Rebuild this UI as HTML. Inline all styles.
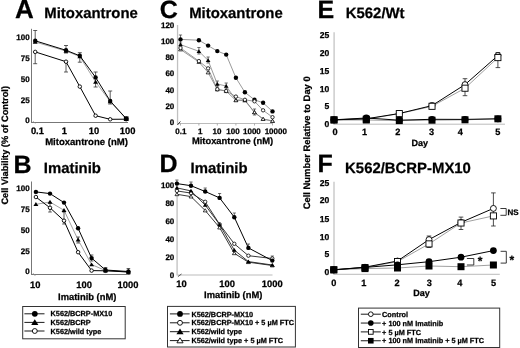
<!DOCTYPE html>
<html><head><meta charset="utf-8"><style>
html,body{margin:0;padding:0;background:#fff;}
svg{display:block;font-family:"Liberation Sans", sans-serif;will-change:transform;text-rendering:geometricPrecision;}
text{stroke:#000;stroke-width:0.25px;}
</style></head><body>
<svg width="520" height="348" viewBox="0 0 520 348">
<g>
<rect width="520" height="348" fill="#fff"/>
<text x="14.9" y="18.1" font-size="26" font-weight="bold" text-anchor="start" fill="#000" >A</text>
<text x="44.3" y="18" font-size="14.9" font-weight="bold" text-anchor="start" fill="#000" >Mitoxantrone</text>
<text x="159.8" y="17.9" font-size="25" font-weight="bold" text-anchor="start" fill="#000" >C</text>
<text x="189.2" y="18.1" font-size="14.9" font-weight="bold" text-anchor="start" fill="#000" >Mitoxantrone</text>
<text x="317.5" y="18.2" font-size="25" font-weight="bold" text-anchor="start" fill="#000" >E</text>
<text x="345.8" y="17.7" font-size="14.9" font-weight="bold" text-anchor="start" fill="#000" >K562/Wt</text>
<text x="13.5" y="172.9" font-size="25" font-weight="bold" text-anchor="start" fill="#000" >B</text>
<text x="43.8" y="172.9" font-size="14.9" font-weight="bold" text-anchor="start" fill="#000" >Imatinib</text>
<text x="159.5" y="171.9" font-size="25" font-weight="bold" text-anchor="start" fill="#000" >D</text>
<text x="190.5" y="172.9" font-size="14.9" font-weight="bold" text-anchor="start" fill="#000" >Imatinib</text>
<text x="317.6" y="172.2" font-size="25" font-weight="bold" text-anchor="start" fill="#000" >F</text>
<text x="345.1" y="173.1" font-size="14.9" font-weight="bold" text-anchor="start" fill="#000" >K562/BCRP-MX10</text>
<text transform="translate(8.1,145.3) rotate(-90)" font-size="9.26" font-weight="bold" text-anchor="middle">Cell Viability (% of Control)</text>
<text transform="translate(310.2,142.8) rotate(-90)" font-size="9.4" font-weight="bold" text-anchor="middle">Cell Number Relative to Day 0</text>
<line x1="31.5" y1="28.8" x2="31.5" y2="123" stroke="#777" stroke-width="1"/>
<line x1="31" y1="122.5" x2="128" y2="122.5" stroke="#777" stroke-width="1"/>
<line x1="33.2" y1="121.3" x2="35.2" y2="123.4" stroke="#888" stroke-width="0.9"/>
<text x="29.6" y="39.8" font-size="8" font-weight="bold" text-anchor="end" fill="#000" >100</text>
<text x="29.6" y="60.8" font-size="8" font-weight="bold" text-anchor="end" fill="#000" >75</text>
<text x="29.6" y="81.8" font-size="8" font-weight="bold" text-anchor="end" fill="#000" >50</text>
<text x="29.6" y="102.8" font-size="8" font-weight="bold" text-anchor="end" fill="#000" >25</text>
<text x="29.6" y="123.1" font-size="8" font-weight="bold" text-anchor="end" fill="#000" >0</text>
<text x="37.4" y="133.98999999999998" font-size="9.4" font-weight="bold" text-anchor="middle" fill="#000" >0.1</text>
<text x="64.3" y="133.98999999999998" font-size="9.4" font-weight="bold" text-anchor="middle" fill="#000" >1</text>
<text x="94" y="133.98999999999998" font-size="9.4" font-weight="bold" text-anchor="middle" fill="#000" >10</text>
<text x="127.6" y="133.98999999999998" font-size="9.4" font-weight="bold" text-anchor="middle" fill="#000" >100</text>
<text x="86.5" y="144.8" font-size="9.55" font-weight="bold" text-anchor="middle" fill="#000" >Mitoxantrone (nM)</text>
<line x1="35.2" y1="30.5" x2="35.2" y2="42" stroke="#333" stroke-width="0.8"/>
<line x1="33.2" y1="30.5" x2="37.2" y2="30.5" stroke="#333" stroke-width="0.8"/>
<line x1="33.2" y1="42" x2="37.2" y2="42" stroke="#333" stroke-width="0.8"/>
<line x1="35.2" y1="52" x2="35.2" y2="63.7" stroke="#333" stroke-width="0.8"/>
<line x1="33.2" y1="52" x2="37.2" y2="52" stroke="#333" stroke-width="0.8"/>
<line x1="33.2" y1="63.7" x2="37.2" y2="63.7" stroke="#333" stroke-width="0.8"/>
<line x1="66" y1="45.5" x2="66" y2="53" stroke="#333" stroke-width="0.8"/>
<line x1="64" y1="45.5" x2="68" y2="45.5" stroke="#333" stroke-width="0.8"/>
<line x1="64" y1="53" x2="68" y2="53" stroke="#333" stroke-width="0.8"/>
<line x1="66" y1="62" x2="66" y2="72" stroke="#333" stroke-width="0.8"/>
<line x1="64" y1="62" x2="68" y2="62" stroke="#333" stroke-width="0.8"/>
<line x1="64" y1="72" x2="68" y2="72" stroke="#333" stroke-width="0.8"/>
<line x1="79.8" y1="52.7" x2="79.8" y2="62.2" stroke="#333" stroke-width="0.8"/>
<line x1="77.8" y1="52.7" x2="81.8" y2="52.7" stroke="#333" stroke-width="0.8"/>
<line x1="77.8" y1="62.2" x2="81.8" y2="62.2" stroke="#333" stroke-width="0.8"/>
<line x1="95.6" y1="72" x2="95.6" y2="87" stroke="#333" stroke-width="0.8"/>
<line x1="93.6" y1="72" x2="97.6" y2="72" stroke="#333" stroke-width="0.8"/>
<line x1="93.6" y1="87" x2="97.6" y2="87" stroke="#333" stroke-width="0.8"/>
<line x1="110.2" y1="91" x2="110.2" y2="104" stroke="#333" stroke-width="0.8"/>
<line x1="108.2" y1="91" x2="112.2" y2="91" stroke="#333" stroke-width="0.8"/>
<line x1="108.2" y1="104" x2="112.2" y2="104" stroke="#333" stroke-width="0.8"/>
<polyline points="35.2,42 66,51 79.8,56.5 95.6,81.9 110.2,101.5 126.2,118.8" fill="none" stroke="#666" stroke-width="0.6" stroke-linejoin="round"/>
<polyline points="35.2,40.8 66,50.3 79.8,55.8 95.6,77.4 110.2,101 126.2,118.6" fill="none" stroke="#000" stroke-width="1" stroke-linejoin="round"/>
<polyline points="35.2,51.9 66,61.7 79.8,86.6 95.6,115.7 110.2,119.3 126.2,119.2" fill="none" stroke="#000" stroke-width="1" stroke-linejoin="round"/>
<circle cx="35.2" cy="51.9" r="1.7500000000000002" fill="#fff" stroke="#000" stroke-width="0.9"/>
<circle cx="66" cy="61.7" r="1.7500000000000002" fill="#fff" stroke="#000" stroke-width="0.9"/>
<circle cx="79.8" cy="86.6" r="1.7500000000000002" fill="#fff" stroke="#000" stroke-width="0.9"/>
<circle cx="95.6" cy="115.7" r="1.7500000000000002" fill="#fff" stroke="#000" stroke-width="0.9"/>
<circle cx="110.2" cy="119.3" r="1.7500000000000002" fill="#fff" stroke="#000" stroke-width="0.9"/>
<circle cx="126.2" cy="119.2" r="1.7500000000000002" fill="#fff" stroke="#000" stroke-width="0.9"/>
<path d="M35.2,39.80 L37.66,43.76 L32.74,43.76Z" fill="#000"/>
<path d="M66,48.80 L68.46,52.76 L63.54,52.76Z" fill="#000"/>
<path d="M79.8,54.30 L82.26,58.26 L77.34,58.26Z" fill="#000"/>
<path d="M95.6,79.70 L98.06,83.66 L93.14,83.66Z" fill="#000"/>
<path d="M110.2,99.30 L112.66,103.26 L107.74,103.26Z" fill="#000"/>
<path d="M126.2,116.60 L128.66,120.56 L123.74,120.56Z" fill="#000"/>
<circle cx="35.2" cy="40.8" r="2.2" fill="#000"/>
<circle cx="66" cy="50.3" r="2.2" fill="#000"/>
<circle cx="79.8" cy="55.8" r="2.2" fill="#000"/>
<circle cx="95.6" cy="77.4" r="2.2" fill="#000"/>
<circle cx="110.2" cy="101" r="2.2" fill="#000"/>
<circle cx="126.2" cy="118.6" r="2.2" fill="#000"/>
<rect x="123.9" y="116.4" width="4.6" height="4.6" fill="#000"/>
<line x1="31.5" y1="181.5" x2="31.5" y2="275" stroke="#777" stroke-width="1"/>
<line x1="31" y1="274.5" x2="130.3" y2="274.5" stroke="#777" stroke-width="1"/>
<line x1="33.2" y1="273.3" x2="35.2" y2="275.8" stroke="#888" stroke-width="0.9"/>
<text x="29.6" y="191.4" font-size="8" font-weight="bold" text-anchor="end" fill="#000" >100</text>
<text x="29.6" y="212.10000000000002" font-size="8" font-weight="bold" text-anchor="end" fill="#000" >75</text>
<text x="29.6" y="232.9" font-size="8" font-weight="bold" text-anchor="end" fill="#000" >50</text>
<text x="29.6" y="253.8" font-size="8" font-weight="bold" text-anchor="end" fill="#000" >25</text>
<text x="29.6" y="274.2" font-size="8" font-weight="bold" text-anchor="end" fill="#000" >0</text>
<text x="35.3" y="287.59000000000003" font-size="9.4" font-weight="bold" text-anchor="middle" fill="#000" >10</text>
<text x="84.1" y="287.59000000000003" font-size="9.4" font-weight="bold" text-anchor="middle" fill="#000" >100</text>
<text x="128" y="287.59000000000003" font-size="9.4" font-weight="bold" text-anchor="middle" fill="#000" >1000</text>
<text x="87.2" y="300.2" font-size="9.4" font-weight="bold" text-anchor="middle" fill="#000" >Imatinib (nM)</text>
<line x1="50" y1="203" x2="50" y2="212" stroke="#333" stroke-width="0.8"/>
<line x1="48.2" y1="203" x2="51.8" y2="203" stroke="#333" stroke-width="0.8"/>
<line x1="48.2" y1="212" x2="51.8" y2="212" stroke="#333" stroke-width="0.8"/>
<line x1="64" y1="212" x2="64" y2="224" stroke="#333" stroke-width="0.8"/>
<line x1="62.2" y1="212" x2="65.8" y2="212" stroke="#333" stroke-width="0.8"/>
<line x1="62.2" y1="224" x2="65.8" y2="224" stroke="#333" stroke-width="0.8"/>
<line x1="78.1" y1="237" x2="78.1" y2="243" stroke="#333" stroke-width="0.8"/>
<line x1="76.3" y1="237" x2="79.89999999999999" y2="237" stroke="#333" stroke-width="0.8"/>
<line x1="76.3" y1="243" x2="79.89999999999999" y2="243" stroke="#333" stroke-width="0.8"/>
<line x1="91.6" y1="255" x2="91.6" y2="261" stroke="#333" stroke-width="0.8"/>
<line x1="89.8" y1="255" x2="93.39999999999999" y2="255" stroke="#333" stroke-width="0.8"/>
<line x1="89.8" y1="261" x2="93.39999999999999" y2="261" stroke="#333" stroke-width="0.8"/>
<line x1="105.5" y1="267.5" x2="105.5" y2="272" stroke="#333" stroke-width="0.8"/>
<line x1="103.7" y1="267.5" x2="107.3" y2="267.5" stroke="#333" stroke-width="0.8"/>
<line x1="103.7" y1="272" x2="107.3" y2="272" stroke="#333" stroke-width="0.8"/>
<line x1="128.4" y1="268.5" x2="128.4" y2="273" stroke="#333" stroke-width="0.8"/>
<line x1="126.60000000000001" y1="268.5" x2="130.20000000000002" y2="268.5" stroke="#333" stroke-width="0.8"/>
<line x1="126.60000000000001" y1="273" x2="130.20000000000002" y2="273" stroke="#333" stroke-width="0.8"/>
<polyline points="35.9,204.3 50,202 64,210.3 78.1,239.8 91.6,264.6 105.5,270.5 128.4,272" fill="none" stroke="#777" stroke-width="0.7" stroke-linejoin="round"/>
<polyline points="35.9,191.9 50,193.6 64,202.6 78.1,228.3 91.6,258.1 105.5,270 128.4,271.5" fill="none" stroke="#000" stroke-width="1" stroke-linejoin="round"/>
<polyline points="35.9,197 50,207.8 64,220.7 78.1,252.2 91.6,270.6 105.5,270.8 128.4,272" fill="none" stroke="#000" stroke-width="1" stroke-linejoin="round"/>
<circle cx="35.9" cy="197" r="1.7500000000000002" fill="#fff" stroke="#000" stroke-width="0.9"/>
<circle cx="50" cy="207.8" r="1.7500000000000002" fill="#fff" stroke="#000" stroke-width="0.9"/>
<circle cx="64" cy="220.7" r="1.7500000000000002" fill="#fff" stroke="#000" stroke-width="0.9"/>
<circle cx="78.1" cy="252.2" r="1.7500000000000002" fill="#fff" stroke="#000" stroke-width="0.9"/>
<circle cx="91.6" cy="270.6" r="1.7500000000000002" fill="#fff" stroke="#000" stroke-width="0.9"/>
<circle cx="105.5" cy="270.8" r="1.7500000000000002" fill="#fff" stroke="#000" stroke-width="0.9"/>
<circle cx="128.4" cy="272" r="1.7500000000000002" fill="#fff" stroke="#000" stroke-width="0.9"/>
<path d="M35.9,202.10 L38.36,206.06 L33.44,206.06Z" fill="#000"/>
<path d="M50,199.80 L52.46,203.76 L47.54,203.76Z" fill="#000"/>
<path d="M64,208.10 L66.46,212.06 L61.54,212.06Z" fill="#000"/>
<path d="M78.1,237.60 L80.56,241.56 L75.64,241.56Z" fill="#000"/>
<path d="M91.6,262.40 L94.06,266.36 L89.14,266.36Z" fill="#000"/>
<path d="M105.5,268.30 L107.96,272.26 L103.04,272.26Z" fill="#000"/>
<path d="M128.4,269.80 L130.86,273.76 L125.94,273.76Z" fill="#000"/>
<circle cx="35.9" cy="191.9" r="2.2" fill="#000"/>
<circle cx="50" cy="193.6" r="2.2" fill="#000"/>
<circle cx="64" cy="202.6" r="2.2" fill="#000"/>
<circle cx="78.1" cy="228.3" r="2.2" fill="#000"/>
<circle cx="91.6" cy="258.1" r="2.2" fill="#000"/>
<circle cx="105.5" cy="270" r="2.2" fill="#000"/>
<circle cx="128.4" cy="271.5" r="2.2" fill="#000"/>
<rect x="22.7" y="306.5" width="102.5" height="32.3" fill="none" stroke="#333" stroke-width="1"/>
<line x1="24.4" y1="313.8" x2="44.5" y2="313.8" stroke="#000" stroke-width="0.9"/>
<circle cx="34.8" cy="313.8" r="2.9" fill="#000"/>
<text x="50.6" y="316.40000000000003" font-size="7.3" font-weight="bold" text-anchor="start" fill="#000" >K562/BCRP-MX10</text>
<line x1="24.4" y1="322.40000000000003" x2="44.5" y2="322.40000000000003" stroke="#000" stroke-width="0.9"/>
<path d="M34.8,319.20 L38.38,324.96 L31.22,324.96Z" fill="#000"/>
<text x="50.6" y="325.00000000000006" font-size="7.3" font-weight="bold" text-anchor="start" fill="#000" >K562/BCRP</text>
<line x1="24.4" y1="331.0" x2="44.5" y2="331.0" stroke="#000" stroke-width="0.9"/>
<circle cx="34.8" cy="331.0" r="2.4499999999999997" fill="#fff" stroke="#000" stroke-width="0.9"/>
<text x="50.6" y="333.6" font-size="7.3" font-weight="bold" text-anchor="start" fill="#000" >K562/wild type</text>
<line x1="177.55" y1="25" x2="177.55" y2="124" stroke="#c0c0c0" stroke-width="1.3"/>
<line x1="177.5" y1="123.5" x2="273" y2="123.5" stroke="#bbb" stroke-width="1"/>
<line x1="177.4" y1="125" x2="180.4" y2="121.5" stroke="#333" stroke-width="1"/>
<text x="174.3" y="27.7" font-size="8" font-weight="bold" text-anchor="end" fill="#000" >120</text>
<text x="174.3" y="43.9" font-size="8" font-weight="bold" text-anchor="end" fill="#000" >100</text>
<text x="174.3" y="60.099999999999994" font-size="8" font-weight="bold" text-anchor="end" fill="#000" >80</text>
<text x="174.3" y="76.3" font-size="8" font-weight="bold" text-anchor="end" fill="#000" >60</text>
<text x="174.3" y="92.6" font-size="8" font-weight="bold" text-anchor="end" fill="#000" >40</text>
<text x="174.3" y="108.8" font-size="8" font-weight="bold" text-anchor="end" fill="#000" >20</text>
<text x="174.3" y="125.2" font-size="8" font-weight="bold" text-anchor="end" fill="#000" >0</text>
<text x="180.8" y="133.70000000000002" font-size="8" font-weight="bold" text-anchor="middle" fill="#000" >0.1</text>
<text x="200.2" y="133.70000000000002" font-size="8" font-weight="bold" text-anchor="middle" fill="#000" >1</text>
<text x="216.9" y="133.70000000000002" font-size="8" font-weight="bold" text-anchor="middle" fill="#000" >10</text>
<text x="233" y="133.70000000000002" font-size="8" font-weight="bold" text-anchor="middle" fill="#000" >100</text>
<text x="251.9" y="133.70000000000002" font-size="8" font-weight="bold" text-anchor="middle" fill="#000" >1000</text>
<text x="275.8" y="133.70000000000002" font-size="8" font-weight="bold" text-anchor="middle" fill="#000" >10000</text>
<text x="232.5" y="144.3" font-size="9.4" font-weight="bold" text-anchor="middle" fill="#000" >Mitoxantrone (nM)</text>
<line x1="180.5" y1="35" x2="180.5" y2="43" stroke="#333" stroke-width="0.7"/>
<line x1="178.9" y1="35" x2="182.1" y2="35" stroke="#333" stroke-width="0.7"/>
<line x1="178.9" y1="43" x2="182.1" y2="43" stroke="#333" stroke-width="0.7"/>
<line x1="198.9" y1="47.5" x2="198.9" y2="54" stroke="#333" stroke-width="0.7"/>
<line x1="197.3" y1="47.5" x2="200.5" y2="47.5" stroke="#333" stroke-width="0.7"/>
<line x1="197.3" y1="54" x2="200.5" y2="54" stroke="#333" stroke-width="0.7"/>
<line x1="208.1" y1="57" x2="208.1" y2="63" stroke="#333" stroke-width="0.7"/>
<line x1="206.5" y1="57" x2="209.7" y2="57" stroke="#333" stroke-width="0.7"/>
<line x1="206.5" y1="63" x2="209.7" y2="63" stroke="#333" stroke-width="0.7"/>
<line x1="217.3" y1="81" x2="217.3" y2="87" stroke="#333" stroke-width="0.7"/>
<line x1="215.70000000000002" y1="81" x2="218.9" y2="81" stroke="#333" stroke-width="0.7"/>
<line x1="215.70000000000002" y1="87" x2="218.9" y2="87" stroke="#333" stroke-width="0.7"/>
<line x1="226.2" y1="83" x2="226.2" y2="89" stroke="#333" stroke-width="0.7"/>
<line x1="224.6" y1="83" x2="227.79999999999998" y2="83" stroke="#333" stroke-width="0.7"/>
<line x1="224.6" y1="89" x2="227.79999999999998" y2="89" stroke="#333" stroke-width="0.7"/>
<line x1="254.5" y1="109" x2="254.5" y2="115" stroke="#333" stroke-width="0.7"/>
<line x1="252.9" y1="109" x2="256.1" y2="109" stroke="#333" stroke-width="0.7"/>
<line x1="252.9" y1="115" x2="256.1" y2="115" stroke="#333" stroke-width="0.7"/>
<polyline points="180.5,39.4 198.9,40.2 208.1,45.6 217.3,51.1 226.2,54.6 235.9,77.8 244.9,92.3 254.5,99.8 263.1,102.8 272.5,111.4" fill="none" stroke="#808080" stroke-width="0.8" stroke-linejoin="round"/>
<polyline points="180.5,44.6 198.9,51.3 208.1,60.4 217.3,84 226.2,86 235.9,100 244.9,100.5 254.5,112.4 263.1,119 272.5,121" fill="none" stroke="#808080" stroke-width="0.8" stroke-linejoin="round"/>
<polyline points="180.5,48 198.9,61.1 208.1,68.4 217.3,89.2 226.2,91 235.9,96.6 244.9,99.8 254.5,101.3 263.1,110.3 272.5,117.2" fill="none" stroke="#808080" stroke-width="0.8" stroke-linejoin="round"/>
<polyline points="180.5,49.5 198.9,62 208.1,72.5 217.3,89.5 226.2,91.2 235.9,100.4 244.9,100 254.5,112.4 263.1,119 272.5,121" fill="none" stroke="#808080" stroke-width="0.8" stroke-linejoin="round"/>
<path d="M180.5,42.50 L182.85,46.28 L178.15,46.28Z" fill="#000"/>
<path d="M198.9,49.20 L201.25,52.98 L196.55,52.98Z" fill="#000"/>
<path d="M208.1,58.30 L210.45,62.08 L205.75,62.08Z" fill="#000"/>
<path d="M217.3,81.90 L219.65,85.68 L214.95,85.68Z" fill="#000"/>
<path d="M226.2,83.90 L228.55,87.68 L223.85,87.68Z" fill="#000"/>
<path d="M235.9,97.90 L238.25,101.68 L233.55,101.68Z" fill="#000"/>
<path d="M244.9,98.40 L247.25,102.18 L242.55,102.18Z" fill="#000"/>
<path d="M254.5,110.30 L256.85,114.08 L252.15,114.08Z" fill="#000"/>
<path d="M263.1,116.90 L265.45,120.68 L260.75,120.68Z" fill="#000"/>
<path d="M272.5,118.90 L274.85,122.68 L270.15,122.68Z" fill="#000"/>
<circle cx="180.5" cy="39.4" r="2.2" fill="#000"/>
<circle cx="198.9" cy="40.2" r="2.2" fill="#000"/>
<circle cx="208.1" cy="45.6" r="2.2" fill="#000"/>
<circle cx="217.3" cy="51.1" r="2.2" fill="#000"/>
<circle cx="226.2" cy="54.6" r="2.2" fill="#000"/>
<circle cx="235.9" cy="77.8" r="2.2" fill="#000"/>
<circle cx="244.9" cy="92.3" r="2.2" fill="#000"/>
<circle cx="254.5" cy="99.8" r="2.2" fill="#000"/>
<circle cx="263.1" cy="102.8" r="2.2" fill="#000"/>
<circle cx="272.5" cy="111.4" r="2.2" fill="#000"/>
<path d="M180.5,47.77 L182.43,50.88 L178.57,50.88Z" fill="#fff" stroke="#000" stroke-width="0.75" stroke-linejoin="miter"/>
<path d="M198.9,60.27 L200.83,63.38 L196.97,63.38Z" fill="#fff" stroke="#000" stroke-width="0.75" stroke-linejoin="miter"/>
<path d="M208.1,70.78 L210.03,73.88 L206.17,73.88Z" fill="#fff" stroke="#000" stroke-width="0.75" stroke-linejoin="miter"/>
<path d="M217.3,87.78 L219.23,90.88 L215.37,90.88Z" fill="#fff" stroke="#000" stroke-width="0.75" stroke-linejoin="miter"/>
<path d="M226.2,89.48 L228.13,92.58 L224.27,92.58Z" fill="#fff" stroke="#000" stroke-width="0.75" stroke-linejoin="miter"/>
<path d="M235.9,98.68 L237.83,101.78 L233.97,101.78Z" fill="#fff" stroke="#000" stroke-width="0.75" stroke-linejoin="miter"/>
<path d="M244.9,98.28 L246.83,101.38 L242.97,101.38Z" fill="#fff" stroke="#000" stroke-width="0.75" stroke-linejoin="miter"/>
<path d="M254.5,110.68 L256.43,113.78 L252.57,113.78Z" fill="#fff" stroke="#000" stroke-width="0.75" stroke-linejoin="miter"/>
<path d="M263.1,117.28 L265.03,120.38 L261.17,120.38Z" fill="#fff" stroke="#000" stroke-width="0.75" stroke-linejoin="miter"/>
<path d="M272.5,119.28 L274.43,122.38 L270.57,122.38Z" fill="#fff" stroke="#000" stroke-width="0.75" stroke-linejoin="miter"/>
<circle cx="180.5" cy="48" r="1.7000000000000002" fill="#fff" stroke="#000" stroke-width="0.8"/>
<circle cx="198.9" cy="61.1" r="1.7000000000000002" fill="#fff" stroke="#000" stroke-width="0.8"/>
<circle cx="208.1" cy="68.4" r="1.7000000000000002" fill="#fff" stroke="#000" stroke-width="0.8"/>
<circle cx="217.3" cy="89.2" r="1.7000000000000002" fill="#fff" stroke="#000" stroke-width="0.8"/>
<circle cx="226.2" cy="91" r="1.7000000000000002" fill="#fff" stroke="#000" stroke-width="0.8"/>
<circle cx="235.9" cy="96.6" r="1.7000000000000002" fill="#fff" stroke="#000" stroke-width="0.8"/>
<circle cx="244.9" cy="99.8" r="1.7000000000000002" fill="#fff" stroke="#000" stroke-width="0.8"/>
<circle cx="254.5" cy="101.3" r="1.7000000000000002" fill="#fff" stroke="#000" stroke-width="0.8"/>
<circle cx="263.1" cy="110.3" r="1.7000000000000002" fill="#fff" stroke="#000" stroke-width="0.8"/>
<circle cx="272.5" cy="117.2" r="1.7000000000000002" fill="#fff" stroke="#000" stroke-width="0.8"/>
<line x1="180.5" y1="123.5" x2="180.5" y2="125.5" stroke="#999" stroke-width="0.8"/>
<line x1="198.9" y1="123.5" x2="198.9" y2="125.5" stroke="#999" stroke-width="0.8"/>
<line x1="217.3" y1="123.5" x2="217.3" y2="125.5" stroke="#999" stroke-width="0.8"/>
<line x1="235.9" y1="123.5" x2="235.9" y2="125.5" stroke="#999" stroke-width="0.8"/>
<line x1="254.5" y1="123.5" x2="254.5" y2="125.5" stroke="#999" stroke-width="0.8"/>
<line x1="272.5" y1="123.5" x2="272.5" y2="125.5" stroke="#999" stroke-width="0.8"/>
<line x1="177.1" y1="181" x2="177.1" y2="275.5" stroke="#c4c4c4" stroke-width="1.4"/>
<line x1="177.5" y1="275" x2="272.5" y2="275" stroke="#bbb" stroke-width="1"/>
<line x1="177.9" y1="276.6" x2="181.5" y2="274" stroke="#555" stroke-width="1"/>
<text x="174.3" y="188.0" font-size="8" font-weight="bold" text-anchor="end" fill="#000" >100</text>
<text x="174.3" y="206.0" font-size="8" font-weight="bold" text-anchor="end" fill="#000" >80</text>
<text x="174.3" y="224.0" font-size="8" font-weight="bold" text-anchor="end" fill="#000" >60</text>
<text x="174.3" y="242.0" font-size="8" font-weight="bold" text-anchor="end" fill="#000" >40</text>
<text x="174.3" y="259.90000000000003" font-size="8" font-weight="bold" text-anchor="end" fill="#000" >20</text>
<text x="174.3" y="277.7" font-size="8" font-weight="bold" text-anchor="end" fill="#000" >0</text>
<text x="181.5" y="286.59000000000003" font-size="9.4" font-weight="bold" text-anchor="middle" fill="#000" >10</text>
<text x="227.2" y="286.59000000000003" font-size="9.4" font-weight="bold" text-anchor="middle" fill="#000" >100</text>
<text x="272.2" y="286.59000000000003" font-size="9.4" font-weight="bold" text-anchor="middle" fill="#000" >1000</text>
<text x="233.2" y="297.6" font-size="9.4" font-weight="bold" text-anchor="middle" fill="#000" >Imatinib (nM)</text>
<line x1="176.9" y1="180" x2="176.9" y2="184" stroke="#333" stroke-width="0.7"/>
<line x1="175.3" y1="180" x2="178.5" y2="180" stroke="#333" stroke-width="0.7"/>
<line x1="175.3" y1="184" x2="178.5" y2="184" stroke="#333" stroke-width="0.7"/>
<line x1="191" y1="182" x2="191" y2="186" stroke="#333" stroke-width="0.7"/>
<line x1="189.4" y1="182" x2="192.6" y2="182" stroke="#333" stroke-width="0.7"/>
<line x1="189.4" y1="186" x2="192.6" y2="186" stroke="#333" stroke-width="0.7"/>
<line x1="205.2" y1="188" x2="205.2" y2="192" stroke="#333" stroke-width="0.7"/>
<line x1="203.6" y1="188" x2="206.79999999999998" y2="188" stroke="#333" stroke-width="0.7"/>
<line x1="203.6" y1="192" x2="206.79999999999998" y2="192" stroke="#333" stroke-width="0.7"/>
<line x1="219.6" y1="193.5" x2="219.6" y2="198" stroke="#333" stroke-width="0.7"/>
<line x1="218.0" y1="193.5" x2="221.2" y2="193.5" stroke="#333" stroke-width="0.7"/>
<line x1="218.0" y1="198" x2="221.2" y2="198" stroke="#333" stroke-width="0.7"/>
<line x1="234.3" y1="213" x2="234.3" y2="217" stroke="#333" stroke-width="0.7"/>
<line x1="232.70000000000002" y1="213" x2="235.9" y2="213" stroke="#333" stroke-width="0.7"/>
<line x1="232.70000000000002" y1="217" x2="235.9" y2="217" stroke="#333" stroke-width="0.7"/>
<line x1="248.4" y1="244" x2="248.4" y2="248" stroke="#333" stroke-width="0.7"/>
<line x1="246.8" y1="244" x2="250.0" y2="244" stroke="#333" stroke-width="0.7"/>
<line x1="246.8" y1="248" x2="250.0" y2="248" stroke="#333" stroke-width="0.7"/>
<line x1="272.3" y1="256" x2="272.3" y2="260" stroke="#333" stroke-width="0.7"/>
<line x1="270.7" y1="256" x2="273.90000000000003" y2="256" stroke="#333" stroke-width="0.7"/>
<line x1="270.7" y1="260" x2="273.90000000000003" y2="260" stroke="#333" stroke-width="0.7"/>
<polyline points="176.9,194.3 191,196.6 205.2,210.5 219.6,227.6 234.3,253.3 248.4,262.2 272.3,265.5" fill="none" stroke="#222" stroke-width="0.9" stroke-linejoin="round"/>
<polyline points="176.9,187.9 191,190.9 205.2,205.1 219.6,224.5 234.3,250.1 248.4,261.6 272.3,265" fill="none" stroke="#222" stroke-width="0.9" stroke-linejoin="round"/>
<polyline points="176.9,190.9 191,193.1 205.2,201.8 219.6,224.3 234.3,243.8 248.4,255.7 272.3,258.5" fill="none" stroke="#222" stroke-width="0.9" stroke-linejoin="round"/>
<polyline points="176.9,183.6 191,185.7 205.2,191.5 219.6,197.9 234.3,217.2 248.4,247.9 272.3,260.6" fill="none" stroke="#000" stroke-width="1" stroke-linejoin="round"/>
<path d="M176.9,192.58 L178.83,195.68 L174.97,195.68Z" fill="#fff" stroke="#000" stroke-width="0.75" stroke-linejoin="miter"/>
<path d="M191,194.88 L192.93,197.98 L189.07,197.98Z" fill="#fff" stroke="#000" stroke-width="0.75" stroke-linejoin="miter"/>
<path d="M205.2,208.78 L207.13,211.88 L203.27,211.88Z" fill="#fff" stroke="#000" stroke-width="0.75" stroke-linejoin="miter"/>
<path d="M219.6,225.88 L221.53,228.98 L217.67,228.98Z" fill="#fff" stroke="#000" stroke-width="0.75" stroke-linejoin="miter"/>
<path d="M234.3,251.58 L236.23,254.68 L232.37,254.68Z" fill="#fff" stroke="#000" stroke-width="0.75" stroke-linejoin="miter"/>
<path d="M248.4,260.47 L250.33,263.58 L246.47,263.58Z" fill="#fff" stroke="#000" stroke-width="0.75" stroke-linejoin="miter"/>
<path d="M272.3,263.77 L274.23,266.88 L270.37,266.88Z" fill="#fff" stroke="#000" stroke-width="0.75" stroke-linejoin="miter"/>
<circle cx="176.9" cy="190.9" r="1.7000000000000002" fill="#fff" stroke="#000" stroke-width="0.8"/>
<circle cx="191" cy="193.1" r="1.7000000000000002" fill="#fff" stroke="#000" stroke-width="0.8"/>
<circle cx="205.2" cy="201.8" r="1.7000000000000002" fill="#fff" stroke="#000" stroke-width="0.8"/>
<circle cx="219.6" cy="224.3" r="1.7000000000000002" fill="#fff" stroke="#000" stroke-width="0.8"/>
<circle cx="234.3" cy="243.8" r="1.7000000000000002" fill="#fff" stroke="#000" stroke-width="0.8"/>
<circle cx="248.4" cy="255.7" r="1.7000000000000002" fill="#fff" stroke="#000" stroke-width="0.8"/>
<circle cx="272.3" cy="258.5" r="1.7000000000000002" fill="#fff" stroke="#000" stroke-width="0.8"/>
<path d="M176.9,185.80 L179.25,189.58 L174.55,189.58Z" fill="#000"/>
<path d="M191,188.80 L193.35,192.58 L188.65,192.58Z" fill="#000"/>
<path d="M205.2,203.00 L207.55,206.78 L202.85,206.78Z" fill="#000"/>
<path d="M219.6,222.40 L221.95,226.18 L217.25,226.18Z" fill="#000"/>
<path d="M234.3,248.00 L236.65,251.78 L231.95,251.78Z" fill="#000"/>
<path d="M248.4,259.50 L250.75,263.28 L246.05,263.28Z" fill="#000"/>
<path d="M272.3,262.90 L274.65,266.68 L269.95,266.68Z" fill="#000"/>
<circle cx="176.9" cy="183.6" r="2.2" fill="#000"/>
<circle cx="191" cy="185.7" r="2.2" fill="#000"/>
<circle cx="205.2" cy="191.5" r="2.2" fill="#000"/>
<circle cx="219.6" cy="197.9" r="2.2" fill="#000"/>
<circle cx="234.3" cy="217.2" r="2.2" fill="#000"/>
<circle cx="248.4" cy="247.9" r="2.2" fill="#000"/>
<circle cx="272.3" cy="260.6" r="2.2" fill="#000"/>
<rect x="167.5" y="306.4" width="127.9" height="40.6" fill="none" stroke="#333" stroke-width="1"/>
<line x1="169.9" y1="313.9" x2="189.6" y2="313.9" stroke="#000" stroke-width="0.9"/>
<circle cx="180" cy="313.9" r="2.9" fill="#000"/>
<text x="191.4" y="316.5" font-size="7.3" font-weight="bold" text-anchor="start" fill="#000" >K562/BCRP-MX10</text>
<line x1="169.9" y1="322.79999999999995" x2="189.6" y2="322.79999999999995" stroke="#000" stroke-width="0.9"/>
<circle cx="180" cy="322.79999999999995" r="2.4499999999999997" fill="#fff" stroke="#000" stroke-width="0.9"/>
<text x="191.4" y="325.4" font-size="7.3" font-weight="bold" text-anchor="start" fill="#000" >K562/BCRP-MX10 + 5 µM FTC</text>
<line x1="169.9" y1="331.7" x2="189.6" y2="331.7" stroke="#000" stroke-width="0.9"/>
<path d="M180,328.50 L183.58,334.26 L176.42,334.26Z" fill="#000"/>
<text x="191.4" y="334.3" font-size="7.3" font-weight="bold" text-anchor="start" fill="#000" >K562/wild type</text>
<line x1="169.9" y1="340.59999999999997" x2="189.6" y2="340.59999999999997" stroke="#000" stroke-width="0.9"/>
<path d="M180,337.85 L183.08,342.80 L176.92,342.80Z" fill="#fff" stroke="#000" stroke-width="0.9" stroke-linejoin="miter"/>
<text x="191.4" y="343.2" font-size="7.3" font-weight="bold" text-anchor="start" fill="#000" >K562/wild type + 5 µM FTC</text>
<line x1="334.1" y1="32.3" x2="334.1" y2="124.5" stroke="#c8c8c8" stroke-width="1.4"/>
<line x1="333.5" y1="124.2" x2="505" y2="124.2" stroke="#bbb" stroke-width="1"/>
<text x="329.4" y="37.71" font-size="8.6" font-weight="bold" text-anchor="end" fill="#000" >25</text>
<text x="329.4" y="55.71" font-size="8.6" font-weight="bold" text-anchor="end" fill="#000" >20</text>
<text x="329.4" y="73.61" font-size="8.6" font-weight="bold" text-anchor="end" fill="#000" >15</text>
<text x="329.4" y="91.51" font-size="8.6" font-weight="bold" text-anchor="end" fill="#000" >10</text>
<text x="329.4" y="109.41000000000001" font-size="8.6" font-weight="bold" text-anchor="end" fill="#000" >5</text>
<text x="329.4" y="127.11" font-size="8.6" font-weight="bold" text-anchor="end" fill="#000" >0</text>
<text x="335" y="135.32" font-size="9.2" font-weight="bold" text-anchor="middle" fill="#000" >0</text>
<text x="364.6" y="135.32" font-size="9.2" font-weight="bold" text-anchor="middle" fill="#000" >1</text>
<text x="397.9" y="135.32" font-size="9.2" font-weight="bold" text-anchor="middle" fill="#000" >2</text>
<text x="431.5" y="135.32" font-size="9.2" font-weight="bold" text-anchor="middle" fill="#000" >3</text>
<text x="460.4" y="135.32" font-size="9.2" font-weight="bold" text-anchor="middle" fill="#000" >4</text>
<text x="497.9" y="135.32" font-size="9.2" font-weight="bold" text-anchor="middle" fill="#000" >5</text>
<text x="419.8" y="146.3" font-size="9" font-weight="bold" text-anchor="middle" fill="#000" >Day</text>
<line x1="465" y1="78.7" x2="465" y2="95.7" stroke="#222" stroke-width="0.8"/>
<line x1="462.7" y1="78.7" x2="467.3" y2="78.7" stroke="#222" stroke-width="0.8"/>
<line x1="462.7" y1="95.7" x2="467.3" y2="95.7" stroke="#222" stroke-width="0.8"/>
<line x1="497.9" y1="52.5" x2="497.9" y2="67.6" stroke="#222" stroke-width="0.8"/>
<line x1="495.59999999999997" y1="52.5" x2="500.2" y2="52.5" stroke="#222" stroke-width="0.8"/>
<line x1="495.59999999999997" y1="67.6" x2="500.2" y2="67.6" stroke="#222" stroke-width="0.8"/>
<line x1="432" y1="103" x2="432" y2="109" stroke="#222" stroke-width="0.8"/>
<line x1="429.7" y1="103" x2="434.3" y2="103" stroke="#222" stroke-width="0.8"/>
<line x1="429.7" y1="109" x2="434.3" y2="109" stroke="#222" stroke-width="0.8"/>
<polyline points="334,119.8 366.3,119.2 399.3,113.6 432,106.3 465,88.2 497.9,57.6" fill="none" stroke="#888" stroke-width="0.8" stroke-linejoin="round"/>
<polyline points="334,120 366.3,120 399.3,120.6 432,120.2 465,119.8 497.9,118.8" fill="none" stroke="#888" stroke-width="0.8" stroke-linejoin="round"/>
<polyline points="334,119.8 366.3,118.8 399.3,113.5 432,105.6 465,84.6 497.9,55.6" fill="none" stroke="#000" stroke-width="1" stroke-linejoin="round"/>
<polyline points="334,119.8 366.3,118 399.3,120.2 432,119.3 465,119.4 497.9,118.8" fill="none" stroke="#000" stroke-width="1" stroke-linejoin="round"/>
<circle cx="334" cy="119.8" r="2.9499999999999997" fill="#fff" stroke="#000" stroke-width="0.9"/>
<circle cx="366.3" cy="118.8" r="2.9499999999999997" fill="#fff" stroke="#000" stroke-width="0.9"/>
<circle cx="399.3" cy="113.5" r="2.9499999999999997" fill="#fff" stroke="#000" stroke-width="0.9"/>
<circle cx="432" cy="105.6" r="2.9499999999999997" fill="#fff" stroke="#000" stroke-width="0.9"/>
<circle cx="465" cy="84.6" r="2.9499999999999997" fill="#fff" stroke="#000" stroke-width="0.9"/>
<circle cx="497.9" cy="55.6" r="2.9499999999999997" fill="#fff" stroke="#000" stroke-width="0.9"/>
<rect x="330.95" y="116.75" width="6.1" height="6.1" fill="#fff" stroke="#000" stroke-width="0.9"/>
<rect x="363.25" y="116.15" width="6.1" height="6.1" fill="#fff" stroke="#000" stroke-width="0.9"/>
<rect x="396.25" y="110.55" width="6.1" height="6.1" fill="#fff" stroke="#000" stroke-width="0.9"/>
<rect x="428.95" y="103.25" width="6.1" height="6.1" fill="#fff" stroke="#000" stroke-width="0.9"/>
<rect x="461.95" y="85.15" width="6.1" height="6.1" fill="#fff" stroke="#000" stroke-width="0.9"/>
<rect x="494.84999999999997" y="54.550000000000004" width="6.1" height="6.1" fill="#fff" stroke="#000" stroke-width="0.9"/>
<circle cx="334" cy="119.8" r="3.4" fill="#000"/>
<circle cx="366.3" cy="118" r="3.4" fill="#000"/>
<circle cx="399.3" cy="120.2" r="3.4" fill="#000"/>
<circle cx="432" cy="119.3" r="3.4" fill="#000"/>
<circle cx="465" cy="119.4" r="3.4" fill="#000"/>
<circle cx="497.9" cy="118.8" r="3.4" fill="#000"/>
<rect x="330.5" y="116.5" width="7.0" height="7.0" fill="#000"/>
<rect x="362.8" y="116.5" width="7.0" height="7.0" fill="#000"/>
<rect x="395.8" y="117.1" width="7.0" height="7.0" fill="#000"/>
<rect x="428.5" y="116.7" width="7.0" height="7.0" fill="#000"/>
<rect x="461.5" y="116.3" width="7.0" height="7.0" fill="#000"/>
<rect x="494.4" y="115.3" width="7.0" height="7.0" fill="#000"/>
<line x1="334.0" y1="181.7" x2="334.0" y2="274.5" stroke="#c8c8c8" stroke-width="1.4"/>
<line x1="333.5" y1="274.3" x2="499.8" y2="274.3" stroke="#bbb" stroke-width="1"/>
<text x="329.4" y="185.51" font-size="8.6" font-weight="bold" text-anchor="end" fill="#000" >25</text>
<text x="329.4" y="203.41" font-size="8.6" font-weight="bold" text-anchor="end" fill="#000" >20</text>
<text x="329.4" y="221.51" font-size="8.6" font-weight="bold" text-anchor="end" fill="#000" >15</text>
<text x="329.4" y="239.60999999999999" font-size="8.6" font-weight="bold" text-anchor="end" fill="#000" >10</text>
<text x="329.4" y="257.31" font-size="8.6" font-weight="bold" text-anchor="end" fill="#000" >5</text>
<text x="329.4" y="274.81" font-size="8.6" font-weight="bold" text-anchor="end" fill="#000" >0</text>
<text x="333.8" y="285.52000000000004" font-size="9.2" font-weight="bold" text-anchor="middle" fill="#000" >0</text>
<text x="363.8" y="285.52000000000004" font-size="9.2" font-weight="bold" text-anchor="middle" fill="#000" >1</text>
<text x="397" y="285.52000000000004" font-size="9.2" font-weight="bold" text-anchor="middle" fill="#000" >2</text>
<text x="429.4" y="285.52000000000004" font-size="9.2" font-weight="bold" text-anchor="middle" fill="#000" >3</text>
<text x="459.9" y="285.52000000000004" font-size="9.2" font-weight="bold" text-anchor="middle" fill="#000" >4</text>
<text x="493.5" y="285.52000000000004" font-size="9.2" font-weight="bold" text-anchor="middle" fill="#000" >5</text>
<text x="413.3" y="296" font-size="9" font-weight="bold" text-anchor="start" fill="#000" >Day</text>
<line x1="429" y1="236" x2="429" y2="247.5" stroke="#222" stroke-width="0.8"/>
<line x1="426.7" y1="236" x2="431.3" y2="236" stroke="#222" stroke-width="0.8"/>
<line x1="426.7" y1="247.5" x2="431.3" y2="247.5" stroke="#222" stroke-width="0.8"/>
<line x1="461" y1="217.1" x2="461" y2="229.5" stroke="#222" stroke-width="0.8"/>
<line x1="458.7" y1="217.1" x2="463.3" y2="217.1" stroke="#222" stroke-width="0.8"/>
<line x1="458.7" y1="229.5" x2="463.3" y2="229.5" stroke="#222" stroke-width="0.8"/>
<line x1="493.4" y1="192.9" x2="493.4" y2="226" stroke="#222" stroke-width="0.8"/>
<line x1="491.09999999999997" y1="192.9" x2="495.7" y2="192.9" stroke="#222" stroke-width="0.8"/>
<line x1="491.09999999999997" y1="226" x2="495.7" y2="226" stroke="#222" stroke-width="0.8"/>
<polyline points="333.8,269.8 365,267.6 397.5,261.6 429,243.9 461,223 493.4,215.9" fill="none" stroke="#888" stroke-width="0.8" stroke-linejoin="round"/>
<polyline points="333.8,269.8 365,268.6 397.5,268 429,266 461,266.7 493.4,265" fill="none" stroke="#888" stroke-width="0.8" stroke-linejoin="round"/>
<polyline points="333.8,269.8 365,267.2 397.5,261 429,239.6 461,222.4 493.4,208.4" fill="none" stroke="#000" stroke-width="1" stroke-linejoin="round"/>
<polyline points="333.8,269.8 365,267.4 397.5,264.8 429,261.7 461,257.2 493.4,250.6" fill="none" stroke="#000" stroke-width="1" stroke-linejoin="round"/>
<circle cx="333.8" cy="269.8" r="2.9499999999999997" fill="#fff" stroke="#000" stroke-width="0.9"/>
<circle cx="365" cy="267.2" r="2.9499999999999997" fill="#fff" stroke="#000" stroke-width="0.9"/>
<circle cx="397.5" cy="261" r="2.9499999999999997" fill="#fff" stroke="#000" stroke-width="0.9"/>
<circle cx="429" cy="239.6" r="2.9499999999999997" fill="#fff" stroke="#000" stroke-width="0.9"/>
<circle cx="461" cy="222.4" r="2.9499999999999997" fill="#fff" stroke="#000" stroke-width="0.9"/>
<circle cx="493.4" cy="208.4" r="2.9499999999999997" fill="#fff" stroke="#000" stroke-width="0.9"/>
<rect x="330.75" y="266.75" width="6.1" height="6.1" fill="#fff" stroke="#000" stroke-width="0.9"/>
<rect x="361.95" y="264.55" width="6.1" height="6.1" fill="#fff" stroke="#000" stroke-width="0.9"/>
<rect x="394.45" y="258.55" width="6.1" height="6.1" fill="#fff" stroke="#000" stroke-width="0.9"/>
<rect x="425.95" y="240.85" width="6.1" height="6.1" fill="#fff" stroke="#000" stroke-width="0.9"/>
<rect x="457.95" y="219.95" width="6.1" height="6.1" fill="#fff" stroke="#000" stroke-width="0.9"/>
<rect x="490.34999999999997" y="212.85" width="6.1" height="6.1" fill="#fff" stroke="#000" stroke-width="0.9"/>
<circle cx="333.8" cy="269.8" r="3.4" fill="#000"/>
<circle cx="365" cy="267.4" r="3.4" fill="#000"/>
<circle cx="397.5" cy="264.8" r="3.4" fill="#000"/>
<circle cx="429" cy="261.7" r="3.4" fill="#000"/>
<circle cx="461" cy="257.2" r="3.4" fill="#000"/>
<circle cx="493.4" cy="250.6" r="3.4" fill="#000"/>
<rect x="330.3" y="266.3" width="7.0" height="7.0" fill="#000"/>
<rect x="361.5" y="265.1" width="7.0" height="7.0" fill="#000"/>
<rect x="394.0" y="264.5" width="7.0" height="7.0" fill="#000"/>
<rect x="425.5" y="262.5" width="7.0" height="7.0" fill="#000"/>
<rect x="457.5" y="263.2" width="7.0" height="7.0" fill="#000"/>
<rect x="489.9" y="261.5" width="7.0" height="7.0" fill="#000"/>
<polyline points="500.4,208.5 506.2,208.5 506.2,215.3 500.4,215.3" fill="none" stroke="#222" stroke-width="0.9" stroke-linejoin="round"/>
<text x="507.4" y="214.5" font-size="8" font-weight="bold" text-anchor="start" fill="#000" >NS</text>
<polyline points="466.9,258.5 473.8,258.5 473.8,265 466.9,265" fill="none" stroke="#222" stroke-width="0.9" stroke-linejoin="round"/>
<text x="480" y="265" font-size="12" font-weight="bold" text-anchor="middle" fill="#000" >*</text>
<polyline points="500.6,251.3 506.3,251.3 506.3,263.1 500.6,263.1" fill="none" stroke="#222" stroke-width="0.9" stroke-linejoin="round"/>
<text x="511.9" y="263.5" font-size="12" font-weight="bold" text-anchor="middle" fill="#000" >*</text>
<rect x="358.5" y="308.1" width="141.2" height="39.4" fill="none" stroke="#333" stroke-width="1"/>
<line x1="360.8" y1="314.2" x2="380.8" y2="314.2" stroke="#000" stroke-width="0.9"/>
<circle cx="370.8" cy="314.2" r="2.3499999999999996" fill="#fff" stroke="#000" stroke-width="0.9"/>
<text x="382.1" y="316.8" font-size="7.3" font-weight="bold" text-anchor="start" fill="#000" >Control</text>
<line x1="360.8" y1="323.05" x2="380.8" y2="323.05" stroke="#000" stroke-width="0.9"/>
<circle cx="370.8" cy="323.05" r="2.8" fill="#000"/>
<text x="382.1" y="325.65000000000003" font-size="7.3" font-weight="bold" text-anchor="start" fill="#000" >+ 100 nM Imatinib</text>
<line x1="360.8" y1="331.9" x2="380.8" y2="331.9" stroke="#000" stroke-width="0.9"/>
<rect x="368.45" y="329.54999999999995" width="4.699999999999999" height="4.699999999999999" fill="#fff" stroke="#000" stroke-width="0.9"/>
<text x="382.1" y="334.5" font-size="7.3" font-weight="bold" text-anchor="start" fill="#000" >+ 5 µM FTC</text>
<line x1="360.8" y1="340.75" x2="380.8" y2="340.75" stroke="#000" stroke-width="0.9"/>
<rect x="368.0" y="337.95" width="5.6" height="5.6" fill="#000"/>
<text x="382.1" y="343.35" font-size="7.3" font-weight="bold" text-anchor="start" fill="#000" >+ 100 nM Imatinib + 5 µM FTC</text>
</g>
</svg>
</body></html>
